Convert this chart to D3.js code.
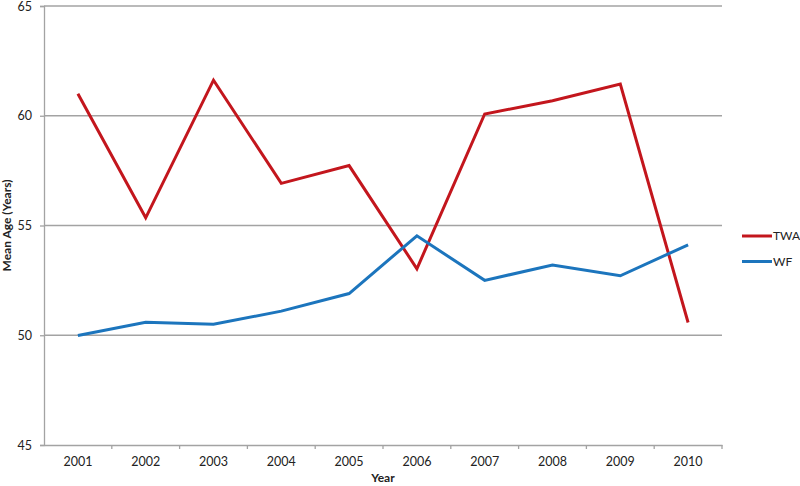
<!DOCTYPE html>
<html>
<head>
<meta charset="utf-8">
<script src="https://cdn.jsdelivr.net/npm/d3@7"></script>
<style>
  body { margin: 0; background: #fff; }
  text { font-family: Lato, "Open Sans", sans-serif; fill: #222; }
</style>
</head>
<body>
<div id="chart"></div>
<script>
// chart data
var years = ["2001", "2002", "2003", "2004", "2005", "2006", "2007", "2008", "2009", "2010"];
var twa = [61.0, 55.35, 61.62, 56.92, 57.73, 53.03, 60.08, 60.68, 61.44, 50.58];
var wf = [49.99, 50.59, 50.5, 51.1, 51.9, 54.53, 52.5, 53.2, 52.71, 54.12];
var yTicks = [45, 50, 55, 60, 65];
var seriesNames = ["TWA", "WF"];
var seriesColors = ["#c3161d", "#1c75bd"];

var width = 800, height = 486;
var margin = {left: 44, right: 78, top: 6, bottom: 41};

var svg = d3.select("#chart").append("svg")
  .attr("width", width)
  .attr("height", height);

var x = d3.scaleBand()
  .domain(years)
  .range([margin.left, width - margin.right]);

var y = d3.scaleLinear()
  .domain([45, 65])
  .range([height - margin.bottom, margin.top]);

// horizontal gridlines
svg.append("g")
  .selectAll("line")
  .data(yTicks.slice(1))
  .enter()
  .append("line")
    .attr("x1", margin.left)
    .attr("x2", width - margin.right)
    .attr("y1", function (d) { return y(d); })
    .attr("y2", function (d) { return y(d); })
    .style("stroke", "#a3a3a3")
    .style("stroke-width", 1.3);

// y axis
var yAxis = svg.append("g")
  .attr("transform", "translate(" + margin.left + ",0)")
  .call(d3.axisLeft(y).tickValues(yTicks).tickSize(4).tickPadding(8));
yAxis.selectAll("path, line").style("stroke", "#a3a3a3").style("stroke-width", 1.3);
yAxis.selectAll("text").style("font-size", "12.5px");

// x axis, ticks on band edges
var xAxis = svg.append("g")
  .attr("transform", "translate(0," + y(45) + ")")
  .call(d3.axisBottom(x).tickSize(0).tickPadding(12));
xAxis.select("path").style("stroke", "#a3a3a3").style("stroke-width", 1.3);
xAxis.selectAll("text").style("font-size", "12.5px");
svg.append("g")
  .selectAll("line")
  .data(years)
  .enter()
  .append("line")
    .attr("x1", function (d) { return x(d) + x.bandwidth(); })
    .attr("x2", function (d) { return x(d) + x.bandwidth(); })
    .attr("y1", y(45))
    .attr("y2", y(45) + 4)
    .style("stroke", "#a3a3a3")
    .style("stroke-width", 1.3);

// axis titles
svg.append("text")
  .attr("x", (margin.left + width - margin.right) / 2)
  .attr("y", 482)
  .attr("text-anchor", "middle")
  .style("font-size", "12px")
  .style("font-weight", "bold")
  .text("Year");

svg.append("text")
  .attr("transform", "translate(11," + y(55) + ") rotate(-90)")
  .attr("text-anchor", "middle")
  .style("font-size", "12px")
  .style("font-weight", "bold")
  .text("Mean Age (Years)");

// lines
var line = d3.line()
  .x(function (d, i) { return x(years[i]) + x.bandwidth() / 2; })
  .y(function (d) { return y(d); });

[twa, wf].forEach(function (vals, i) {
  svg.append("path")
    .datum(vals)
    .attr("d", line)
    .style("fill", "none")
    .style("stroke", seriesColors[i])
    .style("stroke-width", 3)
    .style("stroke-linejoin", "miter");
});

// legend
var legend = svg.selectAll("g.legend")
  .data(seriesNames)
  .enter()
  .append("g")
    .attr("class", "legend")
    .attr("transform", function (d, i) { return "translate(742," + (236 + i * 25.5) + ")"; });
legend.append("line")
  .attr("x1", 0)
  .attr("x2", 30)
  .style("stroke", function (d, i) { return seriesColors[i]; })
  .style("stroke-width", 3);
legend.append("text")
  .attr("x", 31)
  .attr("dy", "0.35em")
  .style("font-size", "12px")
  .text(function (d) { return d; });
</script>
</body>
</html>
